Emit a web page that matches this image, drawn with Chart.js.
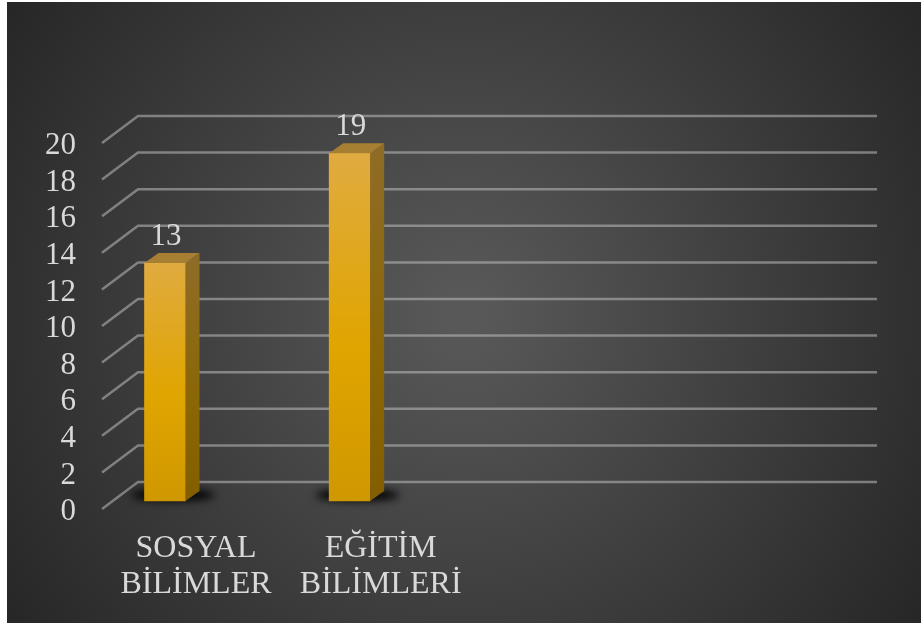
<!DOCTYPE html>
<html>
<head>
<meta charset="utf-8">
<style>
  html, body { margin: 0; padding: 0; background: #fff; }
  canvas { display: block; }
</style>
<script src="https://cdn.jsdelivr.net/npm/chart.js@4"></script>
</head>
<body>
<div style="width:921px;height:623px"><canvas id="chart"></canvas></div>
<script>
const categories = [["SOSYAL", "BİLİMLER"], ["EĞİTİM", "BİLİMLERİ"], "", ""];
const values = [13, 19, null, null];
const yMax = 20;
const yStep = 2;

const textColor = "#d9d9d9";
const serif = '"Liberation Serif", "Times New Roman", serif';

// 3d look: offsets from the plane the bars stand on
const depth = { x: 14, y: -10 };
const wall = { left: 138, right: 877, dy: -19 };
const floorFront = { x: 102, dy: 8 };

const backdrop = {
  id: "backdrop",
  beforeDraw(chart) {
    const { ctx, width, height } = chart;
    const g = ctx.createRadialGradient(465, 312, 20, 465, 312, 590);
    g.addColorStop(0, "#585858");
    g.addColorStop(1, "#232323");
    ctx.save();
    ctx.fillStyle = "#fff";
    ctx.fillRect(0, 0, width, height);
    ctx.fillStyle = g;
    ctx.fillRect(7, 2, width - 7, height - 2);
    ctx.restore();
  },
};

const walls = {
  id: "walls",
  beforeDatasetsDraw(chart) {
    const { ctx, scales } = chart;
    ctx.save();
    ctx.strokeStyle = "rgba(190,190,190,0.55)";
    ctx.lineWidth = 2.5;
    ctx.lineJoin = "round";
    scales.y.ticks.forEach((t) => {
      const y = scales.y.getPixelForValue(t.value);
      ctx.beginPath();
      ctx.moveTo(floorFront.x, y + floorFront.dy);
      ctx.lineTo(wall.left, y + wall.dy);
      ctx.lineTo(wall.right, y + wall.dy);
      ctx.stroke();
    });
    // shadows on the floor, the shape itself sits off canvas
    chart.getDatasetMeta(0).data.forEach((bar, i) => {
      if (values[i] === null) return;
      ctx.save();
      ctx.shadowColor = "rgba(0,0,0,1)";
      ctx.shadowBlur = 8;
      ctx.shadowOffsetX = 2000;
      ctx.fillStyle = "#000";
      ctx.beginPath();
      ctx.ellipse(bar.x + 8 - 2000, bar.base - 6, 42, 6, 0, 0, Math.PI * 2);
      ctx.fill();
      ctx.restore();
    });
    ctx.restore();
  },
};

const barSides = {
  id: "barSides",
  afterDatasetsDraw(chart) {
    const { ctx } = chart;
    chart.getDatasetMeta(0).data.forEach((bar, i) => {
      if (values[i] === null) return;
      const left = bar.x - bar.width / 2;
      const right = bar.x + bar.width / 2;
      ctx.save();
      const side = ctx.createLinearGradient(0, bar.y, 0, bar.base);
      side.addColorStop(0, "#8f6c25");
      side.addColorStop(0.6, "#8a6605");
      side.addColorStop(1, "#835e00");
      ctx.fillStyle = side;
      ctx.beginPath();
      ctx.moveTo(right, bar.y);
      ctx.lineTo(right + depth.x, bar.y + depth.y);
      ctx.lineTo(right + depth.x, bar.base + depth.y);
      ctx.lineTo(right, bar.base);
      ctx.closePath();
      ctx.fill();
      ctx.fillStyle = "#a67f33";
      ctx.beginPath();
      ctx.moveTo(left, bar.y);
      ctx.lineTo(left + depth.x, bar.y + depth.y);
      ctx.lineTo(right + depth.x, bar.y + depth.y);
      ctx.lineTo(right, bar.y);
      ctx.closePath();
      ctx.fill();
      // value label
      ctx.fillStyle = textColor;
      ctx.font = "31px " + serif;
      ctx.textAlign = "center";
      ctx.textBaseline = "middle";
      ctx.fillText(String(values[i]), bar.x + 1, bar.y - 26);
      ctx.restore();
    });
  },
};

function frontGradient(context) {
  const { chart, raw } = context;
  if (!chart.chartArea || raw === null || raw === undefined) return "#dfa500";
  const top = chart.scales.y.getPixelForValue(raw);
  const g = chart.ctx.createLinearGradient(0, top, 0, chart.chartArea.bottom);
  g.addColorStop(0, "#e0ab40");
  g.addColorStop(0.55, "#e0a500");
  g.addColorStop(1, "#d09800");
  return g;
}

new Chart(document.getElementById("chart"), {
  type: "bar",
  data: {
    labels: categories,
    datasets: [
      {
        data: values,
        backgroundColor: frontGradient,
        barThickness: 41,
        clip: false,
      },
    ],
  },
  options: {
    responsive: true,
    maintainAspectRatio: false,
    animation: false,
    layout: { padding: { top: 135, right: 202, left: 0, bottom: 0 } },
    plugins: { legend: { display: false }, tooltip: { enabled: false } },
    scales: {
      x: {
        offset: false,
        grid: { display: false, drawTicks: false },
        border: { display: false },
        afterFit(scale) {
          scale.height = 122;
        },
        ticks: {
          color: textColor,
          font: { family: serif, size: 32, lineHeight: 1.125 },
          maxRotation: 0,
          autoSkip: false,
          padding: 30,
          labelOffset: 31,
        },
      },
      y: {
        min: 0,
        max: yMax,
        grid: { display: false, drawTicks: false },
        border: { display: false },
        afterFit(scale) {
          scale.width = 165;
        },
        ticks: {
          stepSize: yStep,
          autoSkip: false,
          color: textColor,
          font: { family: serif, size: 31 },
          padding: 89,
          labelOffset: 11,
        },
      },
    },
  },
  plugins: [backdrop, walls, barSides],
});
</script>
</body>
</html>
